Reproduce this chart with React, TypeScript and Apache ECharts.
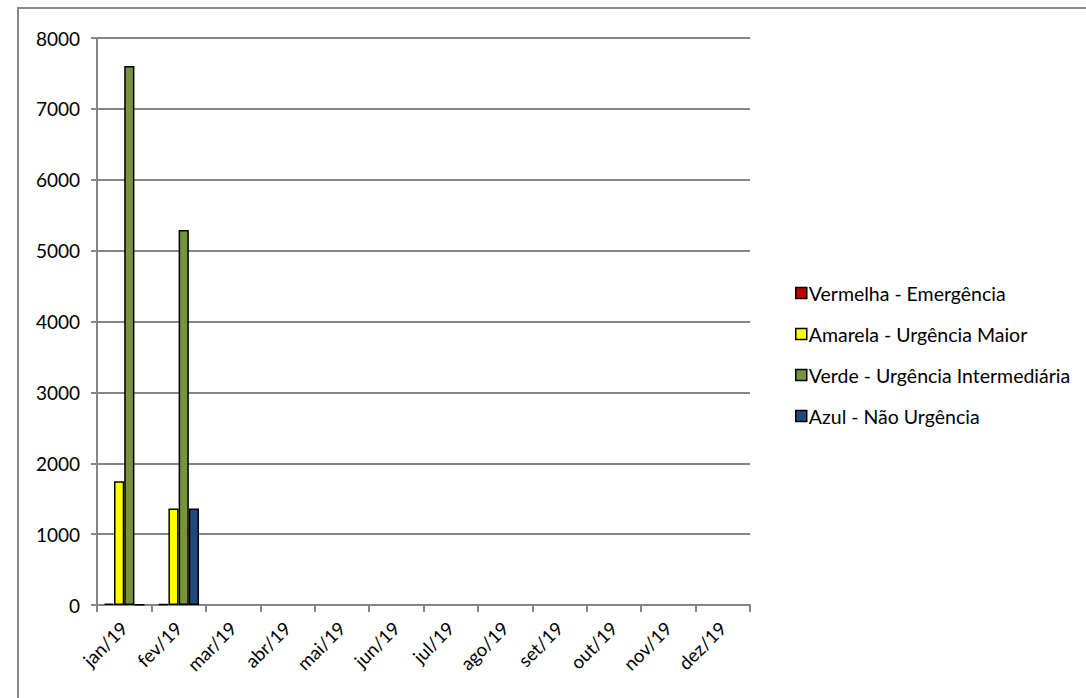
import React, { useEffect, useRef } from "react";
import * as echarts from "echarts";

const months = ["jan/19", "fev/19", "mar/19", "abr/19", "mai/19", "jun/19", "jul/19", "ago/19", "set/19", "out/19", "nov/19", "dez/19"];
// Months without records yet are left empty (null)
const vermelha = [20, 15, null, null, null, null, null, null, null, null, null, null];
const amarela = [1745, 1362, null, null, null, null, null, null, null, null, null, null];
const verde = [7605, 5290, null, null, null, null, null, null, null, null, null, null];
const azul = [5, 1362, null, null, null, null, null, null, null, null, null, null];

const seriesNames = [
  "Vermelha - Emergência",
  "Amarela - Urgência Maior",
  "Verde - Urgência Intermediária",
  "Azul - Não Urgência",
];
const seriesColors = ["#C00000", "#FFFF00", "#77933C", "#1F497D"];
const seriesData = [vermelha, amarela, verde, azul];

const FONT = "Lato, 'Open Sans', sans-serif";

export default function App() {
  const ref = useRef<HTMLDivElement>(null);

  useEffect(() => {
    if (!ref.current) return;
    const chart = echarts.init(ref.current, undefined, { renderer: "svg" });
    chart.setOption({
      animation: false,
      backgroundColor: "#ffffff",
      textStyle: { fontFamily: FONT, color: "#000" },
      graphic: [
        {
          type: "rect",
          shape: { x: 18, y: 8, width: 1200, height: 800 },
          style: { fill: "none", stroke: "#888888", lineWidth: 2 },
          silent: true,
        },
      ],
      grid: { left: 97, right: 336, top: 38, bottom: 93, containLabel: false },
      legend: {
        orient: "vertical",
        left: 790,
        top: 278,
        icon: "rect",
        itemWidth: 11,
        itemHeight: 11,
        itemGap: 21,
        data: seriesNames,
        itemStyle: { borderColor: "#000", borderWidth: 1.5 },
        textStyle: { fontFamily: FONT, fontSize: 19.5, color: "#000", padding: [0, 0, 0, -3] },
      },
      xAxis: {
        type: "category",
        data: months,
        axisLine: { lineStyle: { color: "#868686", width: 2 } },
        axisTick: { show: true, length: 7, lineStyle: { color: "#868686", width: 2 } },
        axisLabel: { rotate: 45, fontFamily: FONT, fontSize: 18.5, color: "#000", margin: 20, interval: 0 },
      },
      yAxis: {
        type: "value",
        min: 0,
        max: 8000,
        interval: 1000,
        axisLine: { show: true, lineStyle: { color: "#868686", width: 2 } },
        axisTick: { show: true, length: 6, lineStyle: { color: "#868686", width: 2 } },
        axisLabel: { fontFamily: FONT, fontSize: 19, color: "#000", margin: 17, formatter: (v: number) => String(v) },
        splitLine: { lineStyle: { color: "#868686", width: 2 } },
      },
      series: seriesNames.map((name, i) => ({
        name,
        type: "bar",
        data: seriesData[i],
        barGap: "0%",
        barCategoryGap: "25%",
        itemStyle: { color: seriesColors[i], borderColor: "#000", borderWidth: 1.5 },
      })),
    });
    return () => chart.dispose();
  }, []);

  return (
    <div
      ref={ref}
      style={{ position: "fixed", left: 0, top: 0, width: 1086, height: 698 }}
    />
  );
}
